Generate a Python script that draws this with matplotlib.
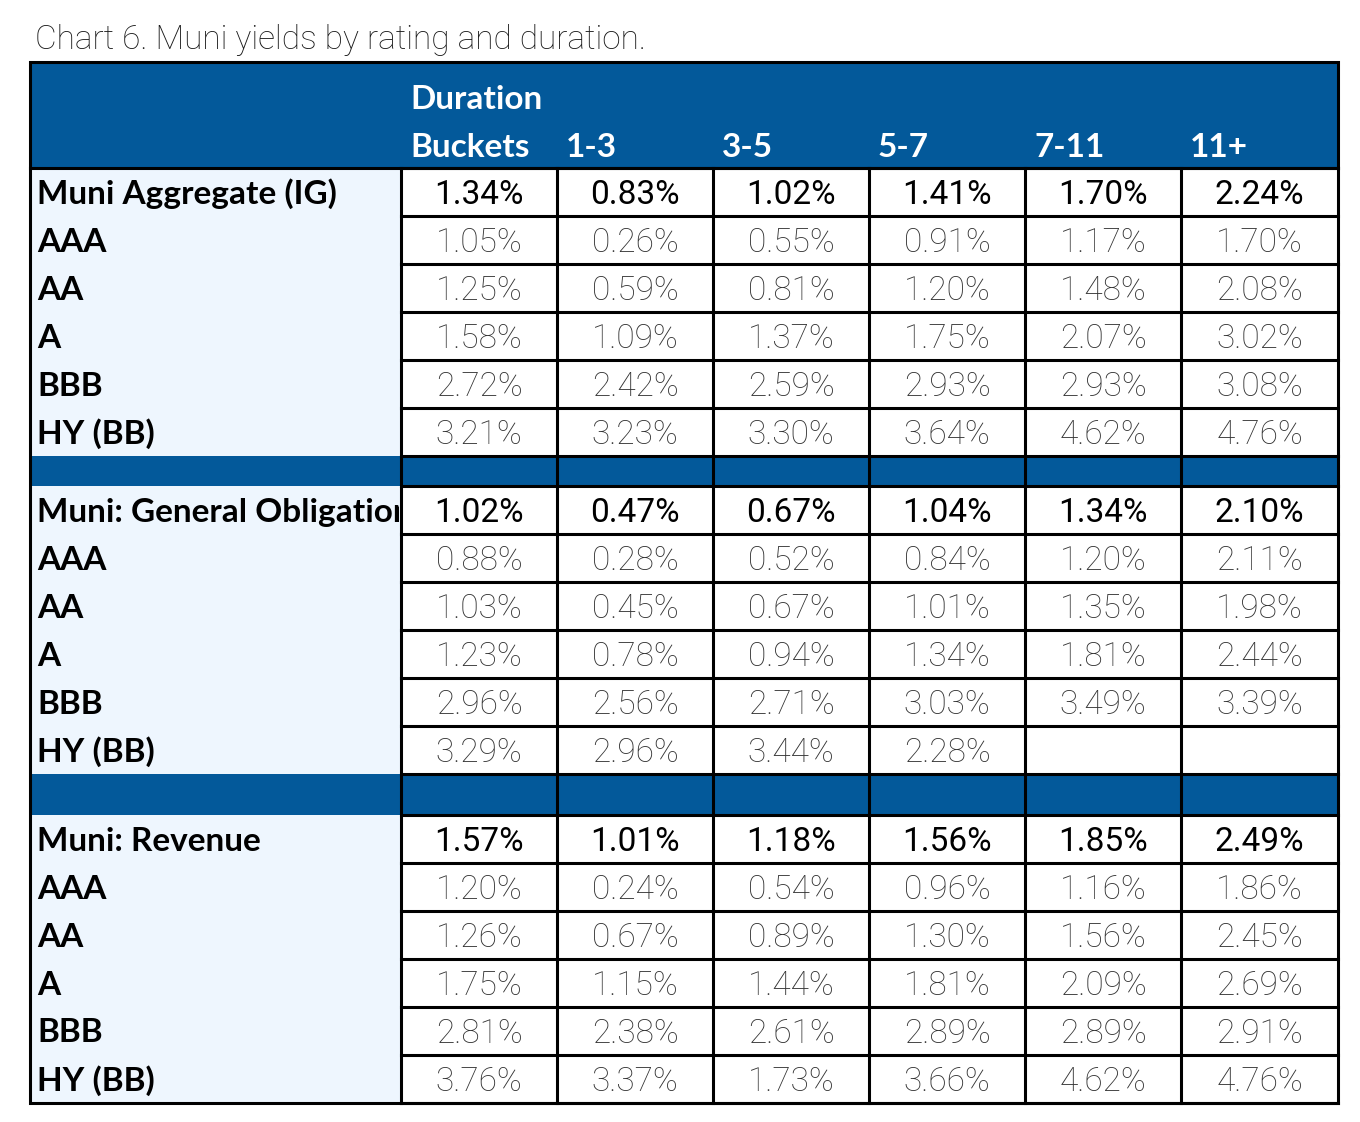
import matplotlib.pyplot as plt
from matplotlib.patches import Rectangle
from matplotlib.transforms import Bbox, TransformedBbox

# data
title = "Chart 6. Muni yields by rating and duration."
col_headers = ["Duration\nBuckets", "1-3", "3-5", "5-7", "7-11", "11+"]
sections = ["Muni Aggregate (IG)", "Muni: General Obligation", "Muni: Revenue"]
ratings = ["AAA", "AA", "A", "BBB", "HY (BB)"]

aggregate = [
    [1.34, 0.83, 1.02, 1.41, 1.70, 2.24],
    [1.05, 0.26, 0.55, 0.91, 1.17, 1.70],
    [1.25, 0.59, 0.81, 1.20, 1.48, 2.08],
    [1.58, 1.09, 1.37, 1.75, 2.07, 3.02],
    [2.72, 2.42, 2.59, 2.93, 2.93, 3.08],
    [3.21, 3.23, 3.30, 3.64, 4.62, 4.76],
]
general_obligation = [
    [1.02, 0.47, 0.67, 1.04, 1.34, 2.10],
    [0.88, 0.28, 0.52, 0.84, 1.20, 2.11],
    [1.03, 0.45, 0.67, 1.01, 1.35, 1.98],
    [1.23, 0.78, 0.94, 1.34, 1.81, 2.44],
    [2.96, 2.56, 2.71, 3.03, 3.49, 3.39],
    [3.29, 2.96, 3.44, 2.28, None, None],
]
revenue = [
    [1.57, 1.01, 1.18, 1.56, 1.85, 2.49],
    [1.20, 0.24, 0.54, 0.96, 1.16, 1.86],
    [1.26, 0.67, 0.89, 1.30, 1.56, 2.45],
    [1.75, 1.15, 1.44, 1.81, 2.09, 2.69],
    [2.81, 2.38, 2.61, 2.89, 2.89, 2.91],
    [3.76, 3.37, 1.73, 3.66, 4.62, 4.76],
]
blocks = [aggregate, general_obligation, revenue]

# layout (pixels)
BLUE = "#03599a"
LIGHT = "#eef6fe"
BOLD_FONT = "Lato"
THIN_FONT = "Roboto"
col_x = [30, 401, 557, 713, 869, 1025, 1181, 1338]
top, header_bottom = 62, 168
row_h = 48
sep_h = [30, 41]
lw = 2.2

fig = plt.figure(figsize=(13.6, 11.22), dpi=100)
ax = fig.add_axes([0, 0, 1, 1])
ax.set_xlim(0, 1360)
ax.set_ylim(1122, 0)
ax.axis("off")

ax.text(35, 40, title, fontsize=24, family=THIN_FONT, weight="light",
        color="#1a1a1a", va="center", ha="left")

left, right = col_x[0], col_x[-1]

# header band
ax.add_patch(Rectangle((left, top), right - left, header_bottom - top, color=BLUE, lw=0))
ax.text(col_x[1] + 9, 99, "Duration", fontsize=24, family=BOLD_FONT, weight="bold",
        color="white", va="center", ha="left")
ax.text(col_x[1] + 9, 147, "Buckets", fontsize=24, family=BOLD_FONT, weight="bold",
        color="white", va="center", ha="left")
for j, h in enumerate(col_headers[1:]):
    ax.text(col_x[j + 2] + 9, 147, h, fontsize=24, family=BOLD_FONT, weight="bold",
            color="white", va="center", ha="left")

# labels must not spill into the first data column
label_box = TransformedBbox(Bbox([[left, top], [col_x[1] - 2, 1122]]), ax.transData)

y = header_bottom
row_lines = []
for b, (name, data) in enumerate(zip(sections, blocks)):
    n = len(data)
    ax.add_patch(Rectangle((left, y), col_x[1] - left, n * row_h, color=LIGHT, lw=0))
    for i, vals in enumerate(data):
        yc = y + i * row_h + row_h / 2
        lab = name if i == 0 else ratings[i - 1]
        t = ax.text(left + 7, yc + 2, lab, fontsize=24, family=BOLD_FONT, weight="bold",
                    color="black", va="center", ha="left")
        t.set_clip_box(label_box)
        t.set_clip_on(True)
        for j, v in enumerate(vals):
            if v is None:
                continue
            xc = (col_x[j + 1] + col_x[j + 2]) / 2
            if i == 0:
                ax.text(xc, yc + 3, f"{v:.2f}%", fontsize=24, family=THIN_FONT,
                        weight="normal", color="black", va="center", ha="center")
            else:
                ax.text(xc, yc + 3, f"{v:.2f}%", fontsize=24, family=THIN_FONT,
                        weight="light", color="#333333", va="center", ha="center")
        row_lines.append(y + i * row_h)
    y += n * row_h
    row_lines.append(y)
    if b < len(sep_h):
        ax.add_patch(Rectangle((left, y), right - left, sep_h[b], color=BLUE, lw=0))
        y += sep_h[b]
bottom = y

# grid lines for data columns
for yl in row_lines:
    ax.plot([col_x[1], right], [yl, yl], color="black", lw=lw, solid_capstyle="projecting")
for xl in col_x[1:-1]:
    ax.plot([xl, xl], [header_bottom, bottom], color="black", lw=lw)
ax.plot([left, right], [header_bottom, header_bottom], color="black", lw=lw)
ax.add_patch(Rectangle((left, top), right - left, bottom - top, fill=False,
                       edgecolor="black", lw=lw))

fig.savefig("out.png", dpi=100)
